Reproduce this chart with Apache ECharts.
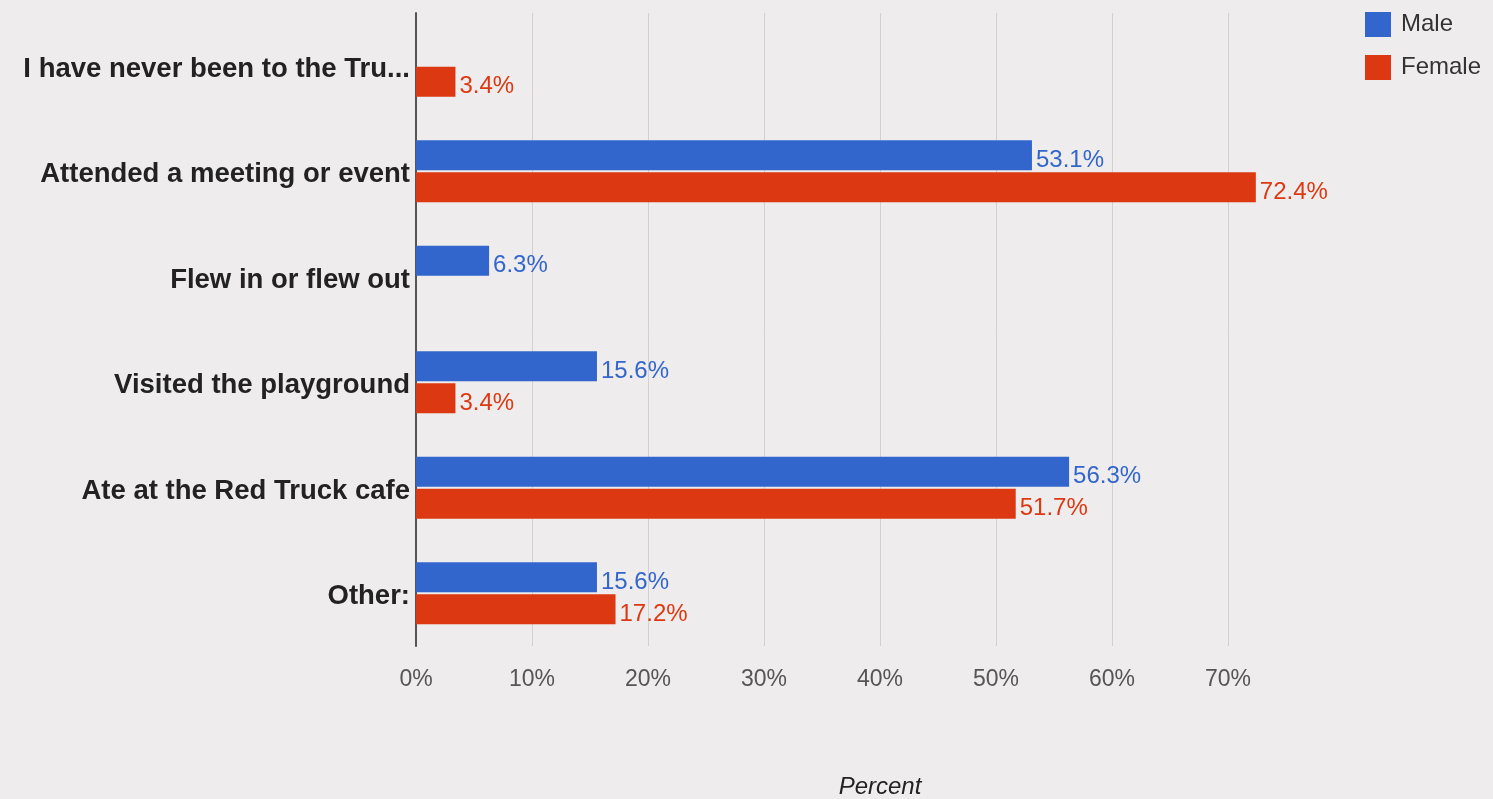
<!DOCTYPE html>
<html>
<head>
<meta charset="utf-8">
<script src="https://cdn.jsdelivr.net/npm/echarts@6/dist/echarts.min.js"></script>
<style>
  html, body { margin: 0; padding: 0; background: #eeecec; }
  #chart { width: 1493px; height: 799px; }
</style>
</head>
<body>
<div id="chart"></div>
<script>
// Survey answers, top to bottom
const categories = [
  'I have never been to the Tru...',
  'Attended a meeting or event',
  'Flew in or flew out',
  'Visited the playground',
  'Ate at the Red Truck cafe',
  'Other:'
];
// Percent of respondents per answer
const maleValues = [0, 53.1, 6.3, 15.6, 56.3, 15.6];
const femaleValues = [3.4, 72.4, 0, 3.4, 51.7, 17.2];
const seriesNames = ['Male', 'Female'];
const axisTitle = 'Percent';

const BLUE = '#3366cc';
const RED = '#dc3912';
const FONT = '"Liberation Sans", Arial, sans-serif';

const chart = echarts.init(document.getElementById('chart'), null, { renderer: 'canvas' });

function pctLabel(color) {
  return {
    show: true,
    position: 'right',
    distance: 4,
    offset: [0, 5],
    color: color,
    fontFamily: FONT,
    fontSize: 24,
    formatter: p => (p.value ? p.value.toFixed(1) + '%' : '')
  };
}

chart.setOption({
  backgroundColor: '#eeecec',
  animation: false,
  grid: {
    left: 416, right: 149, top: 13, bottom: 153,
    containLabel: false,
    outerBoundsMode: 'none'
  },
  legend: {
    orient: 'vertical',
    left: 1360,
    top: 7,
    itemWidth: 26,
    itemHeight: 25,
    itemGap: 18,
    icon: 'rect',
    textStyle: { fontFamily: FONT, fontSize: 24, color: '#333', padding: [0, 0, 0, 5] },
    data: seriesNames
  },
  xAxis: {
    type: 'value',
    min: 0,
    max: 80,
    interval: 10,
    name: axisTitle,
    nameLocation: 'middle',
    nameGap: 129,
    nameTextStyle: { fontFamily: FONT, fontSize: 24, fontStyle: 'italic', color: '#222' },
    axisLine: { show: false },
    axisTick: { show: false },
    axisLabel: {
      formatter: '{value}%',
      fontFamily: FONT,
      fontSize: 23,
      color: '#555',
      margin: 22,
      showMaxLabel: false
    },
    splitLine: { show: true, showMaxLine: false, lineStyle: { color: '#d2d0d0', width: 1 } }
  },
  yAxis: {
    type: 'category',
    inverse: true,
    data: categories,
    axisLine: { show: true, lineStyle: { color: '#555', width: 2 } },
    axisTick: { show: false },
    axisLabel: {
      margin: 6,
      formatter: v => '{c|' + v + '}',
      rich: {
        c: {
          fontFamily: FONT,
          fontSize: 27.5,
          fontWeight: 'bold',
          color: '#222',
          padding: [7, 0, 0, 0]
        }
      }
    },
    splitLine: { show: false }
  },
  series: [
    {
      name: seriesNames[0],
      type: 'bar',
      data: maleValues,
      barWidth: 30,
      barGap: '7%',
      itemStyle: { color: BLUE },
      label: pctLabel(BLUE)
    },
    {
      name: seriesNames[1],
      type: 'bar',
      data: femaleValues,
      barWidth: 30,
      barGap: '7%',
      itemStyle: { color: RED },
      label: pctLabel(RED)
    }
  ]
});
</script>
</body>
</html>
